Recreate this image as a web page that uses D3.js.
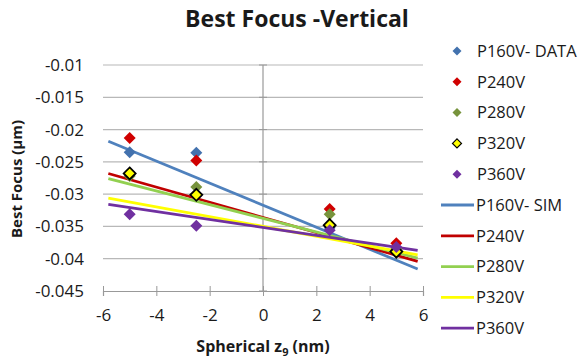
<!DOCTYPE html>
<html><head><meta charset="utf-8">
<script src="https://cdn.jsdelivr.net/npm/d3@7"></script>
<style>body{margin:0;background:#fff}svg{display:block}text{font-family:"Open Sans",sans-serif;fill:#1a1a1a}</style>
</head><body><svg id="c" width="580" height="360"></svg>
<script>
const xData = [-5, -2.5, 2.5, 5];
const dataNames = ["P160V- DATA", "P240V", "P280V", "P320V", "P360V"];
const p160Data = [-0.0235, -0.0236, -0.0352, -0.0388];
const p240Data = [-0.0213, -0.0248, -0.0323, -0.0376];
const p280Data = [-0.0272, -0.0289, -0.0331, -0.0385];
const p320Data = [-0.0268, -0.0301, -0.0348, -0.0389];
const p360Data = [-0.0331, -0.0349, -0.0356, -0.0382];
const xSim = [-5.8, 5.8];
const simNames = ["P160V- SIM", "P240V", "P280V", "P320V", "P360V"];
const p160Sim = [-0.0218, -0.0416];
const p240Sim = [-0.0268, -0.0404];
const p280Sim = [-0.0276, -0.0399];
const p320Sim = [-0.0306, -0.0394];
const p360Sim = [-0.0316, -0.0387];
const xTicks = [-6, -4, -2, 0, 2, 4, 6];
const yTicks = [-0.01, -0.015, -0.02, -0.025, -0.03, -0.035, -0.04, -0.045];

const dataSeries = [p160Data, p240Data, p280Data, p320Data, p360Data];
const simSeries = [p160Sim, p240Sim, p280Sim, p320Sim, p360Sim];
const markerFill = ["#4372AE", "#D00000", "#77933C", "#FFFF00", "#7030A0"];
const markerStroke = ["none", "none", "none", "#000", "none"];
const lineColor = ["#4F81BD", "#C00000", "#92D050", "#FFFF00", "#7030A0"];

const svg = d3.select("#c");
const x = d3.scaleLinear().domain([-6, 6]).range([103, 423]);
const y = d3.scaleLinear().domain([-0.045, -0.01]).range([291, 65]);

// gridlines
svg.append("g").selectAll("line").data(yTicks.filter(d => d > -0.045)).join("line")
  .attr("x1", x(-6)).attr("x2", x(6)).attr("y1", d => y(d)).attr("y2", d => y(d))
  .attr("stroke", "#b8b8b8").attr("stroke-width", 1.2);

// x axis at bottom
const xAxis = svg.append("g").attr("transform", `translate(0,${y(-0.045)})`)
  .call(d3.axisBottom(x).tickValues(xTicks).tickSize(5).tickPadding(13).tickFormat(d3.format("d")));
xAxis.select(".domain").attr("stroke", "#999").attr("stroke-width", 1.2);
xAxis.selectAll(".tick line").attr("stroke", "#999").attr("y1", -5).attr("y2", 5);
xAxis.selectAll("text").style("font-size", "17px").attr("fill", "#1a1a1a").text(d => d < 0 ? "-" + Math.abs(d) : d);

// y axis at x=0
svg.append("line").attr("x1", x(0)).attr("x2", x(0)).attr("y1", y(-0.01)).attr("y2", y(-0.045))
  .attr("stroke", "#999").attr("stroke-width", 1.2);
svg.append("g").selectAll("line").data(yTicks).join("line")
  .attr("x1", x(0) - 4).attr("x2", x(0) + 4).attr("y1", d => y(d)).attr("y2", d => y(d))
  .attr("stroke", "#999");

// y labels on the left
svg.append("g").selectAll("text").data(yTicks).join("text")
  .attr("x", 84).attr("y", d => y(d)).attr("dy", "0.35em").attr("text-anchor", "end")
  .style("font-size", "17px").text(d => String(d));

// sim lines
const line = d3.line().x((d, i) => x(xSim[i])).y(d => y(d));
simSeries.forEach((s, k) => {
  svg.append("path").datum(s).attr("d", line).attr("fill", "none")
    .attr("stroke", lineColor[k]).attr("stroke-width", 2.8);
});

// markers
const diamond = (cx, cy, r) => `M${cx},${cy - r}L${cx + r},${cy}L${cx},${cy + r}L${cx - r},${cy}Z`;
dataSeries.forEach((s, k) => {
  svg.append("g").selectAll("path").data(s).join("path")
    .attr("d", (d, i) => diamond(x(xData[i]), y(d), 6))
    .attr("fill", markerFill[k]).attr("stroke", markerStroke[k]).attr("stroke-width", 1.8);
});

// title
svg.append("text").attr("x", 297).attr("y", 27).attr("text-anchor", "middle")
  .style("font-size", "23px").style("font-weight", "bold").text("Best Focus -Vertical");

// axis titles
const xt = svg.append("text").attr("x", 263).attr("y", 352).attr("text-anchor", "middle")
  .style("font-size", "16px").style("font-weight", "bold");
xt.append("tspan").text("Spherical z");
xt.append("tspan").attr("dy", 4).style("font-size", "11px").text("9");
xt.append("tspan").attr("dy", -4).text(" (nm)");
svg.append("text").attr("transform", "translate(22,179) rotate(-90)").attr("text-anchor", "middle")
  .style("font-size", "15px").style("font-weight", "bold").text("Best Focus (µm)");

// legend
const lg = svg.append("g");
dataNames.forEach((n, k) => {
  const cy = 51 + k * 30.8;
  lg.append("path").attr("d", diamond(457, cy, 4.5)).attr("fill", markerFill[k])
    .attr("stroke", markerStroke[k]).attr("stroke-width", 1.2);
  lg.append("text").attr("x", 477).attr("y", cy).attr("dy", "0.35em").style("font-size", "16.5px").text(n);
});
simNames.forEach((n, k) => {
  const cy = 51 + (k + 5) * 30.8;
  lg.append("line").attr("x1", 441).attr("x2", 474).attr("y1", cy).attr("y2", cy)
    .attr("stroke", lineColor[k]).attr("stroke-width", 2.8);
  lg.append("text").attr("x", 476).attr("y", cy).attr("dy", "0.35em").style("font-size", "16.5px").text(n);
});
</script></body></html>
